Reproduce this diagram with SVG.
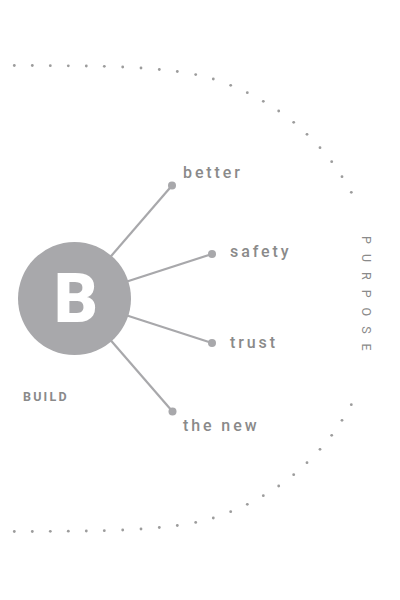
<svg xmlns="http://www.w3.org/2000/svg" xmlns:xlink="http://www.w3.org/1999/xlink" width="400" height="600" viewBox="0 0 400 600">
  <style>
    .conn { stroke: #a8a8ab; stroke-width: 2.2; fill: none; }
    .end { fill: #a8a8ab; }
    .arcdot { fill: #9c9c9c; }
    .label { font-family: Roboto, "Liberation Sans", sans-serif; font-size: 16px; font-weight: 500; fill: #8a8a8a; letter-spacing: 2.9px; }
    .build { font-family: Roboto, "Liberation Sans", sans-serif; font-size: 12.5px; font-weight: 700; fill: #8a8a8a; letter-spacing: 2.2px; }
    .purpose { font-family: Roboto, "Liberation Sans", sans-serif; font-size: 12.5px; font-weight: 400; fill: #8a8a8a; letter-spacing: 10px; }
    .hub { fill: #a8a8ab; }
    .hubtext { font-family: Roboto, "Liberation Sans", sans-serif; font-size: 68px; font-weight: 900; fill: #ffffff; }
  </style>
  <rect width="400" height="600" fill="#ffffff"/>

  <g id="purpose-arc">
    <g id="arc-top" class="arcdot">
      <circle cx="14.3" cy="65.5" r="1.4"/>
      <circle cx="32.3" cy="65.5" r="1.4"/>
      <circle cx="50.3" cy="65.7" r="1.4"/>
      <circle cx="68.3" cy="65.8" r="1.4"/>
      <circle cx="86.3" cy="66" r="1.4"/>
      <circle cx="104.3" cy="66.3" r="1.4"/>
      <circle cx="122.7" cy="67" r="1.4"/>
      <circle cx="141" cy="68" r="1.4"/>
      <circle cx="159.3" cy="69.5" r="1.4"/>
      <circle cx="177.3" cy="71.5" r="1.4"/>
      <circle cx="195.7" cy="74.6" r="1.4"/>
      <circle cx="213.3" cy="79" r="1.4"/>
      <circle cx="230.7" cy="85.3" r="1.4"/>
      <circle cx="247.3" cy="92.7" r="1.4"/>
      <circle cx="263.3" cy="101.3" r="1.4"/>
      <circle cx="278.7" cy="111" r="1.4"/>
      <circle cx="293.7" cy="122.3" r="1.4"/>
      <circle cx="307" cy="134.3" r="1.4"/>
      <circle cx="320" cy="147.7" r="1.4"/>
      <circle cx="331.7" cy="161.7" r="1.4"/>
      <circle cx="342" cy="176.7" r="1.4"/>
      <circle cx="351.3" cy="192.3" r="1.4"/>
    </g>
    <use xlink:href="#arc-top" href="#arc-top" transform="translate(0,597) scale(1,-1)"/>
    <text class="purpose" transform="translate(361.5,236) rotate(90)">PURPOSE</text>
  </g>

  <g id="connectors">
    <line class="conn" x1="74.5" y1="298.5" x2="172" y2="185.5"/>
    <line class="conn" x1="74.5" y1="298.5" x2="212" y2="254"/>
    <line class="conn" x1="74.5" y1="298.5" x2="212" y2="343"/>
    <line class="conn" x1="74.5" y1="298.5" x2="172.5" y2="411.5"/>
    <circle class="end" cx="172" cy="185.5" r="4"/>
    <circle class="end" cx="212" cy="254" r="4"/>
    <circle class="end" cx="212" cy="343" r="4"/>
    <circle class="end" cx="172.5" cy="411.5" r="4"/>
  </g>

  <g id="hub">
    <circle class="hub" cx="74.5" cy="298.5" r="56.5"/>
    <text class="hubtext" x="76" y="321.7" text-anchor="middle">B</text>
    <text class="build" x="23" y="400.7">BUILD</text>
  </g>

  <g id="node-better"><text class="label" x="183" y="177.5">better</text></g>
  <g id="node-safety"><text class="label" x="230" y="256.7">safety</text></g>
  <g id="node-trust"><text class="label" x="230" y="347.5">trust</text></g>
  <g id="node-thenew"><text class="label" x="183" y="431">the new</text></g>
</svg>
